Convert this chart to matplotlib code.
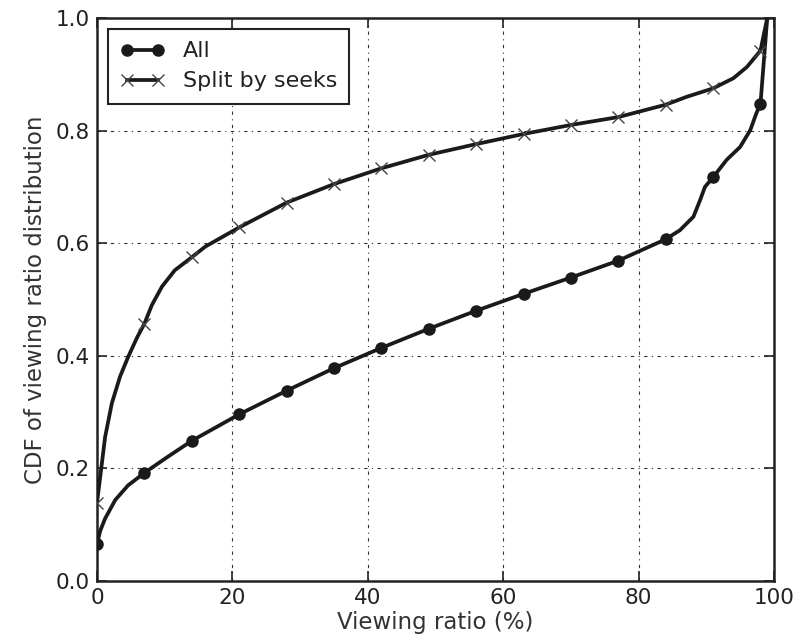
import numpy as np
import matplotlib
matplotlib.use("Agg")
import matplotlib.pyplot as plt

# Data
all_x = [0, 0.5, 1.2, 2.7, 4.6, 7, 8.8, 10.5, 14, 21, 28, 35, 42, 49, 56, 63,
         70, 77, 84, 86.1, 88.1, 89.1, 89.8, 91, 93, 95, 96.5, 97.4, 98, 99]
all_y = [0.066, 0.090, 0.111, 0.144, 0.170, 0.192, 0.207, 0.221, 0.249, 0.296,
         0.338, 0.378, 0.414, 0.448, 0.480, 0.510, 0.539, 0.569, 0.607, 0.623,
         0.647, 0.677, 0.700, 0.717, 0.748, 0.771, 0.801, 0.831, 0.847, 1.0]

split_x = [0, 0.6, 1.2, 2.2, 3.4, 4.6, 5.9, 7, 8.1, 9.6, 11.5, 14, 16, 21, 28,
           35, 42, 49, 56, 63, 70, 77, 84, 87.1, 91, 94, 96, 98, 99]
split_y = [0.139, 0.197, 0.256, 0.316, 0.363, 0.398, 0.432, 0.457, 0.490, 0.523,
           0.552, 0.575, 0.594, 0.628, 0.672, 0.705, 0.733, 0.757, 0.776, 0.794,
           0.810, 0.824, 0.846, 0.860, 0.875, 0.893, 0.913, 0.942, 1.0]

x_ticks = [0, 20, 40, 60, 80, 100]
y_ticks = [0.0, 0.2, 0.4, 0.6, 0.8, 1.0]

ink = "#1a1a1a"
plt.rcParams["font.family"] = ["DejaVu Sans"]
plt.rcParams["text.color"] = "#222222"

fig = plt.figure(figsize=(8.1, 6.39), dpi=100)
ax = fig.add_axes([97/810, 1-581/639, (774-97)/810, (581-18)/639])

def mark_idx(xs):
    return [i for i, v in enumerate(xs) if float(v).is_integer() and int(v) % 7 == 0]

ax.plot(all_x, all_y, color=ink, lw=2.7, marker="o", ms=8,
        markevery=mark_idx(all_x), label="All", zorder=3,
        solid_joinstyle="round")
ax.plot(split_x, split_y, color=ink, lw=2.7, marker="x", ms=9, mew=1.0,
        markeredgecolor="#444444", solid_joinstyle="round",
        markevery=mark_idx(split_x), label="Split by seeks", zorder=3)

ax.set_xlim(0, 100)
ax.set_ylim(0, 1.0)
ax.set_xticks(x_ticks)
ax.set_yticks(y_ticks)
ax.set_yticklabels([f"{v:.1f}" for v in y_ticks])
ax.grid(True, color="#333333", lw=0.8, linestyle=(0, (3, 4, 1, 4)))
ax.tick_params(direction="in", length=7, width=1.2, top=True, right=True,
               colors="#222222", labelsize=15.5, pad=5)
for s in ax.spines.values():
    s.set_linewidth(1.8)
    s.set_color("#222222")

ax.set_xlabel("Viewing ratio (%)", fontsize=16.5, color="#333333", labelpad=2)
ax.set_ylabel("CDF of viewing ratio distribution", fontsize=16.5, color="#333333", labelpad=6)

leg = ax.legend(loc="upper left", numpoints=2, handlelength=2.0, fancybox=False,
                framealpha=1, edgecolor="#222222", borderaxespad=0.5,
                labelspacing=0.45, handletextpad=0.8, borderpad=0.55, fontsize=16)
leg.get_frame().set_linewidth(1.5)

fig.savefig("out.png", dpi=100)
